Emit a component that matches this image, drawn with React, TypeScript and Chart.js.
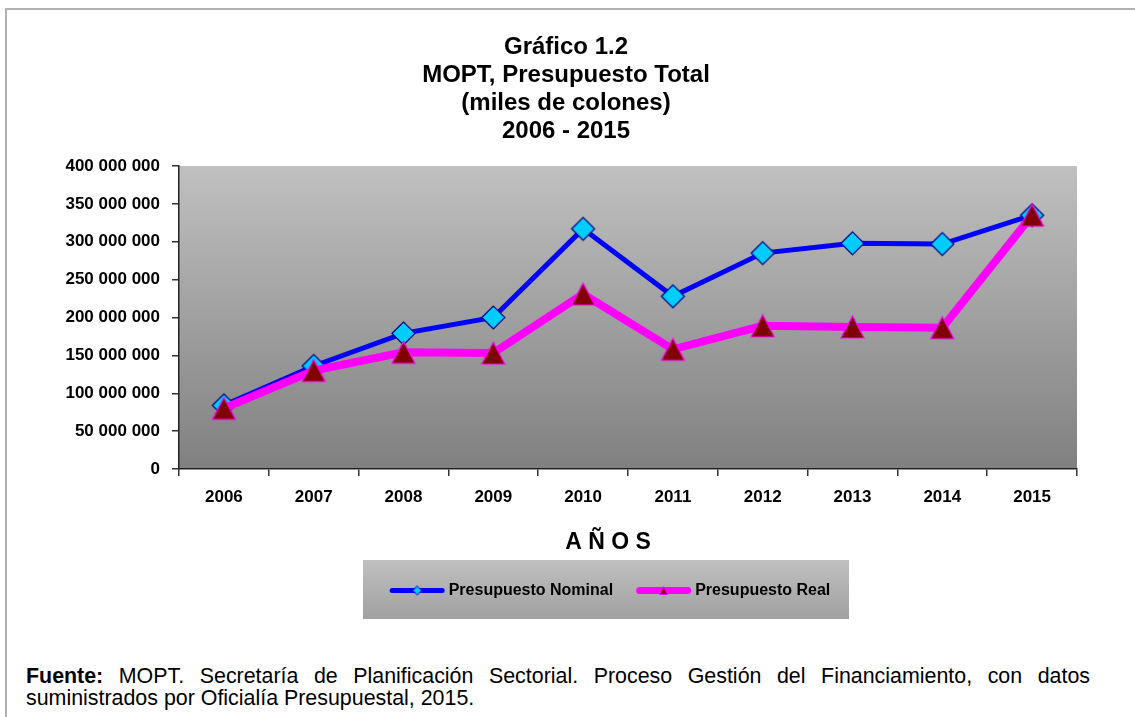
import React, { useEffect, useRef } from "react";
import { Chart, registerables } from "chart.js";

Chart.register(...registerables);

// ---------- data ----------
const years = ["2006", "2007", "2008", "2009", "2010", "2011", "2012", "2013", "2014", "2015"];
const nominalValues = [84000000, 136000000, 179000000, 200000000, 317000000, 228000000, 285000000, 298000000, 297000000, 335000000];
const realValues = [80000000, 130000000, 154000000, 153000000, 231000000, 158000000, 189000000, 187500000, 186500000, 335000000];
const seriesNames = ["Presupuesto Nominal", "Presupuesto Real"];
const titleLines = ["Gráfico 1.2", "MOPT, Presupuesto Total", "(miles de colones)", "2006 - 2015"];
const xAxisTitle = "A Ñ O S";
const yMin = 0;
const yMax = 400000000;
const yStep = 50000000;
const footerBold = "Fuente:";
const footerText =
  " MOPT. Secretaría de Planificación Sectorial. Proceso Gestión del Financiamiento, con datos suministrados por Oficialía Presupuestal, 2015.";

// ---------- styles ----------
const ARIAL = "'Liberation Sans', Arial, sans-serif";
const BLUE = "#0000ff";
const CYAN = "#00ccff";
const NAVY = "#000080";
const MAGENTA = "#ff00ff";
const DARKRED = "#800000";

function makeDiamond(r: number, fill: string, stroke: string, lw: number) {
  const s = Math.ceil(2 * r + lw + 2);
  const c = document.createElement("canvas");
  c.width = s;
  c.height = s;
  const ctx = c.getContext("2d")!;
  const m = s / 2;
  ctx.beginPath();
  ctx.moveTo(m - r, m);
  ctx.lineTo(m, m - r);
  ctx.lineTo(m + r, m);
  ctx.lineTo(m, m + r);
  ctx.closePath();
  ctx.fillStyle = fill;
  ctx.fill();
  ctx.lineWidth = lw;
  ctx.strokeStyle = stroke;
  ctx.stroke();
  return c;
}

function makeTriangle(w: number, h: number, fill: string, stroke: string, lw: number) {
  const sw = Math.ceil(w + lw + 2);
  const sh = Math.ceil(h + lw + 2);
  const c = document.createElement("canvas");
  c.width = sw;
  c.height = sh;
  const ctx = c.getContext("2d")!;
  const cx = sw / 2;
  const cy = sh / 2;
  ctx.beginPath();
  ctx.moveTo(cx, cy - h / 2);
  ctx.lineTo(cx + w / 2, cy + h / 2);
  ctx.lineTo(cx - w / 2, cy + h / 2);
  ctx.closePath();
  ctx.fillStyle = fill;
  ctx.fill();
  ctx.lineWidth = lw;
  ctx.strokeStyle = stroke;
  ctx.lineJoin = "miter";
  ctx.stroke();
  return c;
}

function fmt(v: number) {
  return String(Math.round(v)).replace(/\B(?=(\d{3})+(?!\d))/g, " ");
}

export default function App() {
  const ref = useRef<HTMLCanvasElement | null>(null);

  useEffect(() => {
    if (!ref.current) return;
    const diamond = makeDiamond(11.5, CYAN, NAVY, 1.2);
    const triangle = makeTriangle(23, 22, DARKRED, MAGENTA, 1.2);
    const legendDiamond = makeDiamond(4.5, CYAN, NAVY, 1);
    const legendTriangle = makeTriangle(8, 8, DARKRED, MAGENTA, 1);

    const bgPlugin = {
      id: "bgPlugin",
      beforeDraw(chart: any) {
        const { ctx, chartArea: a } = chart;
        ctx.save();
        const g = ctx.createLinearGradient(0, a.top, 0, a.bottom);
        g.addColorStop(0, "#c0c0c0");
        g.addColorStop(1, "#808080");
        ctx.fillStyle = g;
        ctx.fillRect(a.left, a.top, a.right - a.left, a.bottom - a.top);
        ctx.restore();
      },
      afterDraw(chart: any) {
        const { ctx, chartArea: a } = chart;
        ctx.save();
        // x axis title
        ctx.fillStyle = "#000";
        ctx.font = `bold 23px ${ARIAL}`;
        ctx.textAlign = "center";
        ctx.textBaseline = "middle";
        const midX = (a.left + a.right) / 2 - 20;
        ctx.fillText(xAxisTitle, midX, a.bottom + 74);

        // legend box
        const bw = 486;
        const bh = 59;
        const bx = midX - bw / 2 - 2;
        const by = a.bottom + 91;
        const g = ctx.createLinearGradient(0, by, 0, by + bh);
        g.addColorStop(0, "#c0c0c0");
        g.addColorStop(1, "#a0a0a0");
        ctx.fillStyle = g;
        ctx.fillRect(bx, by, bw, bh);

        const cy = by + bh / 2 + 1;
        ctx.font = `bold 16px ${ARIAL}`;
        ctx.textAlign = "left";
        ctx.textBaseline = "middle";
        const lineLen = 55;
        const items = [
          { name: seriesNames[0], color: BLUE, lw: 5, marker: legendDiamond },
          { name: seriesNames[1], color: MAGENTA, lw: 7, marker: legendTriangle },
        ];
        let total = 0;
        items.forEach((it, i) => {
          total += lineLen + 4 + ctx.measureText(it.name).width + (i < items.length - 1 ? 23 : 0);
        });
        let x = bx + bw / 2 - total / 2 + 4;
        items.forEach((it) => {
          ctx.beginPath();
          ctx.moveTo(x + it.lw / 2, cy);
          ctx.lineTo(x + lineLen - it.lw / 2, cy);
          ctx.lineCap = "round";
          ctx.lineWidth = it.lw;
          ctx.strokeStyle = it.color;
          ctx.stroke();
          const m = it.marker;
          ctx.drawImage(m, x + lineLen / 2 - m.width / 2, cy - m.height / 2);
          x += lineLen + 4;
          ctx.fillStyle = "#000";
          ctx.fillText(it.name, x, cy);
          x += ctx.measureText(it.name).width + 23;
        });
        ctx.restore();
      },
    };

    const chart = new Chart(ref.current, {
      type: "line",
      data: {
        labels: years,
        datasets: [
          {
            label: seriesNames[0],
            data: nominalValues,
            borderColor: BLUE,
            borderWidth: 5,
            pointStyle: diamond as any,
            pointRadius: 12,
            pointHoverRadius: 12,
            backgroundColor: CYAN,
            tension: 0,
            order: 1,
          },
          {
            label: seriesNames[1],
            data: realValues,
            borderColor: MAGENTA,
            borderWidth: 8,
            pointStyle: triangle as any,
            pointRadius: 12,
            pointHoverRadius: 12,
            backgroundColor: DARKRED,
            tension: 0,
            order: 0,
          },
        ],
      },
      plugins: [bgPlugin],
      options: {
        animation: false,
        responsive: false,
        maintainAspectRatio: false,
        layout: { padding: { left: 55, right: 58, top: 33, bottom: 0 } },
        plugins: {
          legend: { display: false },
          tooltip: { enabled: false },
          title: {
            display: true,
            text: titleLines,
            color: "#000",
            font: { family: ARIAL, size: 24, weight: "bold", lineHeight: 28 / 24 },
            padding: { top: 0, bottom: 21 },
          },
        },
        scales: {
          x: {
            offset: true,
            grid: {
              offset: true,
              drawOnChartArea: false,
              drawTicks: true,
              tickLength: 7,
              color: "#333",
              lineWidth: 1.5,
            },
            border: { display: true, color: "#222", width: 1.5 },
            ticks: {
              color: "#000",
              padding: 11,
              font: { family: ARIAL, size: 17, weight: "bold" },
              maxRotation: 0,
            },
            afterFit: (s: any) => {
              s.height = 171;
            },
          },
          y: {
            min: yMin,
            max: yMax,
            grid: {
              drawOnChartArea: false,
              drawTicks: true,
              tickLength: 7,
              color: "#333",
              lineWidth: 1.5,
            },
            border: { display: true, color: "#222", width: 1.5 },
            ticks: {
              stepSize: yStep,
              color: "#000",
              padding: 12,
              font: { family: ARIAL, size: 17, weight: "bold" },
              callback: (v: any) => fmt(Number(v)),
            },
            afterFit: (s: any) => {
              s.width = 124;
            },
          },
        },
      },
    });
    return () => chart.destroy();
  }, []);

  return (
    <div
      style={{
        position: "fixed",
        left: 0,
        top: 0,
        width: 1135,
        height: 717,
        background: "#fff",
        overflow: "hidden",
      }}
    >
      <div
        style={{
          position: "absolute",
          left: 5,
          top: 8,
          right: -10,
          bottom: -10,
          borderTop: "2px solid #b0b0b0",
          borderLeft: "2px solid #b0b0b0",
        }}
      />
      <canvas
        ref={ref}
        width={1135}
        height={640}
        style={{ position: "absolute", left: 0, top: 0, width: 1135, height: 640 }}
      />
      <div
        style={{
          position: "absolute",
          left: 26,
          top: 665,
          width: 1064,
          fontFamily: ARIAL,
          fontSize: 21.4,
          lineHeight: "22px",
          color: "#000",
          textAlign: "justify",
        }}
      >
        <b>{footerBold}</b>
        {footerText}
      </div>
    </div>
  );
}
